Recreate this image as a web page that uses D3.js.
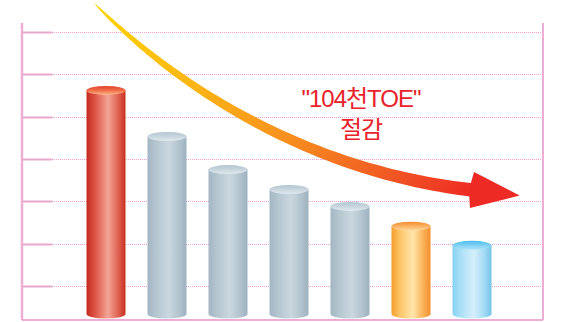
<!DOCTYPE html>
<html>
<head>
<meta charset="utf-8">
<script src="https://cdn.jsdelivr.net/npm/d3@7"></script>
<style>
  html, body { margin: 0; padding: 0; background: #fff; }
  svg { display: block; }
</style>
</head>
<body>
<svg id="chart" width="566" height="322"></svg>
<script>
// Seven stages of energy use, one cylinder each
const categories = ["1", "2", "3", "4", "5", "6", "7"];
const values = [5.62, 4.53, 3.75, 3.28, 2.88, 2.41, 1.96];
const colorKeys = ["red", "gray", "gray", "gray", "gray", "orange", "blue"];
const gridTicks = [1, 2, 3, 4, 5, 6, 7];
const calloutLines = ["\"104천TOE\"", "절감"];

const W = 566, H = 322;
const frame = { left: 22, right: 543, top: 23, bottom: 320 };

const svg = d3.select("#chart");
const defs = svg.append("defs");

const x = d3.scalePoint().domain(categories).range([106, 472]);
const y = d3.scaleLinear().domain([0, 7]).range([328.3, 32]);

const barW = 39, ry = 4.5;

// Cylinder palettes: body (left→right) and lid (top→bottom)
const palettes = {
  red:    { body: ["#C52A20", "#DC5444", "#F4A496", "#E26556", "#C9301F"], top: ["#E2402C", "#F06E48", "#FBB98E"] },
  gray:   { body: ["#A3B6C3", "#B5C6D0", "#CAD7DF", "#B3C4CE", "#9DB1BF"], top: ["#B4C6D0", "#C8D6DE", "#E0E9EE"] },
  orange: { body: ["#F69D2A", "#FCC66A", "#FFE6AC", "#FBB45A", "#F28E30"], top: ["#F48E30", "#F9B262", "#FFDCA4"] },
  blue:   { body: ["#86D2F4", "#ACE0F8", "#D6EFFB", "#A6DCF4", "#74C4EA"], top: ["#4EBDED", "#7ED0F3", "#B4E4F9"] }
};
const bodyOffsets = [0, 0.22, 0.55, 0.8, 1];

Object.entries(palettes).forEach(([k, p]) => {
  const gb = defs.append("linearGradient").attr("id", "body-" + k)
    .attr("x1", 0).attr("y1", 0).attr("x2", 1).attr("y2", 0);
  p.body.forEach((c, i) => gb.append("stop").attr("offset", bodyOffsets[i]).attr("stop-color", c));
  const gt = defs.append("linearGradient").attr("id", "top-" + k)
    .attr("x1", 0).attr("y1", 0).attr("x2", 0).attr("y2", 1);
  p.top.forEach((c, i) => gt.append("stop").attr("offset", i / (p.top.length - 1)).attr("stop-color", c));
});

// Dotted grid lines with short solid ticks on the left
const grid = svg.append("g");
grid.selectAll("line.grid").data(gridTicks).join("line")
  .attr("class", "grid")
  .attr("x1", frame.left).attr("x2", frame.right)
  .attr("y1", d => Math.round(y(d)) + 0.5).attr("y2", d => Math.round(y(d)) + 0.5)
  .attr("stroke", "#ECA0CC").attr("stroke-width", 1).attr("stroke-dasharray", "1,1");
grid.selectAll("line.tick").data(gridTicks).join("line")
  .attr("class", "tick")
  .attr("x1", frame.left).attr("x2", frame.left + 30)
  .attr("y1", d => Math.round(y(d)) + 0.5).attr("y2", d => Math.round(y(d)) + 0.5)
  .attr("stroke", "#E9A6CE").attr("stroke-width", 2);

// Frame
const fr = svg.append("g").attr("stroke", "#ECAED4").attr("fill", "none");
fr.append("line").attr("x1", frame.left).attr("x2", frame.left).attr("y1", frame.top).attr("y2", frame.bottom).attr("stroke-width", 2.5);
fr.append("line").attr("x1", frame.right).attr("x2", frame.right).attr("y1", frame.top).attr("y2", frame.bottom).attr("stroke-width", 2);
fr.append("line").attr("x1", frame.left).attr("x2", frame.right).attr("y1", frame.bottom).attr("y2", frame.bottom).attr("stroke-width", 2);

// Cylinders
const baseY = frame.bottom - ry - 1.5;
const bars = svg.append("g").selectAll("g").data(categories).join("g");
bars.append("path")
  .attr("fill", (d, i) => `url(#body-${colorKeys[i]})`)
  .attr("d", (d, i) => {
    const cx = x(d), l = cx - barW / 2, r = cx + barW / 2, t = y(values[i]);
    return `M${l},${t} L${l},${baseY} A${barW / 2},${ry} 0 0 0 ${r},${baseY} L${r},${t} Z`;
  });
bars.append("ellipse")
  .attr("cx", d => x(d))
  .attr("cy", (d, i) => y(values[i]))
  .attr("rx", barW / 2).attr("ry", ry)
  .attr("fill", (d, i) => `url(#top-${colorKeys[i]})`);

// Tapered trend arrow sweeping down across the cylinders
const c0 = x(categories[0]), cN = x(categories[categories.length - 1]);
const P = [[c0 - 12, 3], [c0 + 64, 80], [c0 + 194, 170], [cN, 190]];
const bez = t => {
  const u = 1 - t;
  const a = u * u * u, b = 3 * u * u * t, c = 3 * u * t * t, e = t * t * t;
  return [a * P[0][0] + b * P[1][0] + c * P[2][0] + e * P[3][0],
          a * P[0][1] + b * P[1][1] + c * P[2][1] + e * P[3][1]];
};
const deriv = t => {
  const u = 1 - t;
  return [3 * u * u * (P[1][0] - P[0][0]) + 6 * u * t * (P[2][0] - P[1][0]) + 3 * t * t * (P[3][0] - P[2][0]),
          3 * u * u * (P[1][1] - P[0][1]) + 6 * u * t * (P[2][1] - P[1][1]) + 3 * t * t * (P[3][1] - P[2][1])];
};
const N = 80, upper = [], lower = [];
for (let i = 0; i <= N; i++) {
  const t = i / N, p = bez(t), dv = deriv(t);
  const len = Math.hypot(dv[0], dv[1]);
  const nx = -dv[1] / len, ny = dv[0] / len;
  const w = 13.5 * Math.pow(t, 0.55) / 2;
  upper.push([p[0] + nx * w, p[1] + ny * w]);
  lower.push([p[0] - nx * w, p[1] - ny * w]);
}
const ag = defs.append("linearGradient").attr("id", "arrowGrad")
  .attr("gradientUnits", "userSpaceOnUse")
  .attr("x1", P[0][0]).attr("y1", P[0][1]).attr("x2", P[3][0]).attr("y2", P[3][1]);
[[0, "#FFD400"], [0.3, "#FBB514"], [0.55, "#F7901E"], [0.8, "#F15A24"], [1, "#EE2A24"]]
  .forEach(([o, c]) => ag.append("stop").attr("offset", o).attr("stop-color", c));
svg.append("path")
  .attr("d", d3.line()(upper.concat(lower.reverse())) + "Z")
  .attr("fill", "url(#arrowGrad)");

// Arrow head
const dEnd = deriv(1), lenEnd = Math.hypot(dEnd[0], dEnd[1]);
const ux = dEnd[0] / lenEnd, uy = dEnd[1] / lenEnd, nx = -uy, ny = ux;
const tip = [P[3][0] + ux * 48, P[3][1] + uy * 48];
const b1 = [P[3][0] + nx * 18, P[3][1] + ny * 18];
const b2 = [P[3][0] - nx * 18, P[3][1] - ny * 18];
svg.append("path")
  .attr("d", d3.line()([b1, tip, b2, [P[3][0] - ux * 2 - nx * 6.5, P[3][1] - uy * 2 - ny * 6.5], [P[3][0] - ux * 2 + nx * 6.5, P[3][1] - uy * 2 + ny * 6.5]]) + "Z")
  .attr("fill", "#EE2A24");

// Callout
svg.append("g")
  .selectAll("text").data(calloutLines).join("text")
  .attr("x", 361)
  .attr("y", (d, i) => 107 + i * 31)
  .attr("text-anchor", "middle")
  .attr("font-family", "'Liberation Sans', 'Noto Sans CJK KR', sans-serif")
  .attr("font-size", 24)
  .attr("letter-spacing", -1)
  .attr("fill", "#E8232B")
  .text(d => d);
</script>
</body>
</html>
